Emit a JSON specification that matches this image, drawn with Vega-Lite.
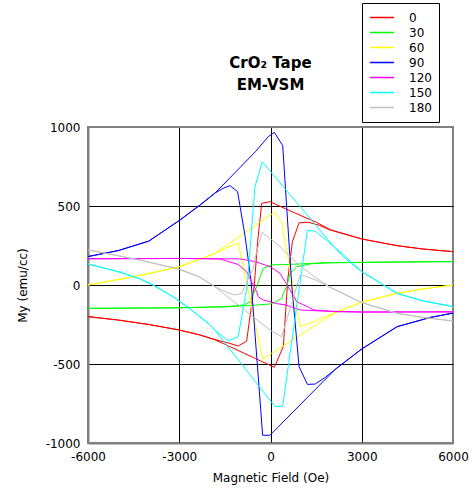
{
"$schema": "https://vega.github.io/schema/vega-lite/v6.json",
"width": 365, "height": 316,
"autosize": "none",
"padding": {"left": 88, "top": 127, "right": 21, "bottom": 47},
"background": "white",
"title": {"text": ["CrO₂ Tape", "EM-VSM"], "font": "DejaVu Sans", "fontSize": 15, "fontWeight": "bold", "lineHeight": 22, "offset": -90, "anchor": "middle", "color": "black"},
"config": {"view": {"stroke": "#808080", "strokeWidth": 2}, "font": "DejaVu Sans"},
"datasets": {
"d": [
{"s":"0","i":0,"h":-6000,"m":-200},{"s":"0","i":1,"h":-5000,"m":-222},{"s":"0","i":2,"h":-4000,"m":-250},{"s":"0","i":3,"h":-3000,"m":-285},{"s":"0","i":4,"h":-2325,"m":-316},{"s":"0","i":5,"h":-1830,"m":-345},{"s":"0","i":6,"h":-1400,"m":-366},{"s":"0","i":7,"h":-1061,"m":-386},{"s":"0","i":8,"h":-785,"m":-356},{"s":"0","i":9,"h":-533,"m":0},{"s":"0","i":10,"h":-423,"m":274},{"s":"0","i":11,"h":-290,"m":517},{"s":"0","i":12,"h":-16,"m":527},{"s":"0","i":13,"h":500,"m":482},{"s":"0","i":14,"h":1000,"m":439},{"s":"0","i":15,"h":1500,"m":398},{"s":"0","i":16,"h":1962,"m":350},{"s":"0","i":17,"h":3007,"m":291},{"s":"0","i":18,"h":4160,"m":249},{"s":"0","i":19,"h":5000,"m":228},{"s":"0","i":20,"h":6000,"m":211},
{"s":"0","i":21,"h":5000,"m":228},{"s":"0","i":22,"h":4160,"m":249},{"s":"0","i":23,"h":3007,"m":291},{"s":"0","i":24,"h":1962,"m":348},{"s":"0","i":25,"h":1600,"m":378},{"s":"0","i":26,"h":1247,"m":397},{"s":"0","i":27,"h":940,"m":394},{"s":"0","i":28,"h":720,"m":274},{"s":"0","i":29,"h":566,"m":32},{"s":"0","i":30,"h":422,"m":-390},{"s":"0","i":31,"h":126,"m":-521},{"s":"0","i":32,"h":-500,"m":-465},{"s":"0","i":33,"h":-1000,"m":-420},{"s":"0","i":34,"h":-1500,"m":-375},{"s":"0","i":35,"h":-1830,"m":-347},{"s":"0","i":36,"h":-2325,"m":-316},{"s":"0","i":37,"h":-3000,"m":-285},{"s":"0","i":38,"h":-4000,"m":-250},{"s":"0","i":39,"h":-5000,"m":-222},{"s":"0","i":40,"h":-6000,"m":-200},

{"s":"30","i":0,"h":-6000,"m":-148},{"s":"30","i":1,"h":-4500,"m":-146},{"s":"30","i":2,"h":-3000,"m":-144},{"s":"30","i":3,"h":-2000,"m":-140},{"s":"30","i":4,"h":-1400,"m":-137},{"s":"30","i":5,"h":-700,"m":-130},{"s":"30","i":6,"h":0,"m":-120},{"s":"30","i":7,"h":204,"m":-105},{"s":"30","i":8,"h":369,"m":-84},{"s":"30","i":9,"h":422,"m":-53},{"s":"30","i":10,"h":534,"m":-11},{"s":"30","i":11,"h":643,"m":74},{"s":"30","i":12,"h":864,"m":116},{"s":"30","i":13,"h":1412,"m":137},{"s":"30","i":14,"h":2000,"m":141},{"s":"30","i":15,"h":3000,"m":143},{"s":"30","i":16,"h":4500,"m":146},{"s":"30","i":17,"h":6000,"m":148},
{"s":"30","i":18,"h":4500,"m":146},{"s":"30","i":19,"h":3000,"m":143},{"s":"30","i":20,"h":2000,"m":141},{"s":"30","i":21,"h":1400,"m":137},{"s":"30","i":22,"h":700,"m":131},{"s":"30","i":23,"h":40,"m":127},{"s":"30","i":24,"h":-237,"m":106},{"s":"30","i":25,"h":-402,"m":21},{"s":"30","i":26,"h":-455,"m":-11},{"s":"30","i":27,"h":-676,"m":-106},{"s":"30","i":28,"h":-860,"m":-125},{"s":"30","i":29,"h":-1400,"m":-137},{"s":"30","i":30,"h":-2000,"m":-140},{"s":"30","i":31,"h":-3000,"m":-144},{"s":"30","i":32,"h":-4500,"m":-146},{"s":"30","i":33,"h":-6000,"m":-148},

{"s":"60","i":0,"h":-6000,"m":0},{"s":"60","i":1,"h":-5000,"m":35},{"s":"60","i":2,"h":-4000,"m":72},{"s":"60","i":3,"h":-3000,"m":116},{"s":"60","i":4,"h":-2324,"m":163},{"s":"60","i":5,"h":-1830,"m":200},{"s":"60","i":6,"h":-1400,"m":240},{"s":"60","i":7,"h":-1061,"m":266},{"s":"60","i":8,"h":-258,"m":-468},{"s":"60","i":9,"h":500,"m":-375},{"s":"60","i":10,"h":1000,"m":-314},{"s":"60","i":11,"h":1500,"m":-252},{"s":"60","i":12,"h":2127,"m":-175},{"s":"60","i":13,"h":3007,"m":-108},{"s":"60","i":14,"h":4160,"m":-53},{"s":"60","i":15,"h":5000,"m":-25},{"s":"60","i":16,"h":6000,"m":0},
{"s":"60","i":17,"h":5000,"m":-25},{"s":"60","i":18,"h":4160,"m":-53},{"s":"60","i":19,"h":3007,"m":-108},{"s":"60","i":20,"h":2127,"m":-175},{"s":"60","i":21,"h":1500,"m":-226},{"s":"60","i":22,"h":973,"m":-264},{"s":"60","i":23,"h":369,"m":397},{"s":"60","i":24,"h":126,"m":460},{"s":"60","i":25,"h":-500,"m":377},{"s":"60","i":26,"h":-1000,"m":310},{"s":"60","i":27,"h":-1830,"m":200},{"s":"60","i":28,"h":-2324,"m":163},{"s":"60","i":29,"h":-3000,"m":116},{"s":"60","i":30,"h":-4000,"m":72},{"s":"60","i":31,"h":-5000,"m":35},{"s":"60","i":32,"h":-6000,"m":0},

{"s":"90","i":0,"h":-6000,"m":180},{"s":"90","i":1,"h":-5000,"m":218},{"s":"90","i":2,"h":-4000,"m":278},{"s":"90","i":3,"h":-3000,"m":408},{"s":"90","i":4,"h":-2324,"m":505},{"s":"90","i":5,"h":-1822,"m":582},{"s":"90","i":6,"h":-1000,"m":744},{"s":"90","i":7,"h":-500,"m":843},{"s":"90","i":8,"h":-72,"m":939},{"s":"90","i":9,"h":126,"m":966},{"s":"90","i":10,"h":402,"m":882},{"s":"90","i":11,"h":698,"m":0},{"s":"90","i":12,"h":940,"m":-517},{"s":"90","i":13,"h":1214,"m":-629},{"s":"90","i":14,"h":1467,"m":-627},{"s":"90","i":15,"h":1800,"m":-585},{"s":"90","i":16,"h":2127,"m":-534},{"s":"90","i":17,"h":3000,"m":-405},{"s":"90","i":18,"h":4160,"m":-264},{"s":"90","i":19,"h":5259,"m":-205},{"s":"90","i":20,"h":6000,"m":-178},
{"s":"90","i":21,"h":5259,"m":-205},{"s":"90","i":22,"h":4160,"m":-264},{"s":"90","i":23,"h":3000,"m":-405},{"s":"90","i":24,"h":2127,"m":-534},{"s":"90","i":25,"h":1000,"m":-753},{"s":"90","i":26,"h":-16,"m":-951},{"s":"90","i":27,"h":-258,"m":-951},{"s":"90","i":28,"h":-643,"m":32},{"s":"90","i":29,"h":-841,"m":316},{"s":"90","i":30,"h":-1083,"m":591},{"s":"90","i":31,"h":-1335,"m":629},{"s":"90","i":32,"h":-1556,"m":612},{"s":"90","i":33,"h":-1822,"m":582},{"s":"90","i":34,"h":-2324,"m":505},{"s":"90","i":35,"h":-3000,"m":408},{"s":"90","i":36,"h":-4000,"m":278},{"s":"90","i":37,"h":-5000,"m":218},{"s":"90","i":38,"h":-6000,"m":180},

{"s":"120","i":0,"h":-6000,"m":166},{"s":"120","i":1,"h":-3000,"m":168},{"s":"120","i":2,"h":-1006,"m":165},{"s":"120","i":3,"h":-500,"m":148},{"s":"120","i":4,"h":-16,"m":116},{"s":"120","i":5,"h":313,"m":74},{"s":"120","i":6,"h":643,"m":-32},{"s":"120","i":7,"h":864,"m":-106},{"s":"120","i":8,"h":1247,"m":-140},{"s":"120","i":9,"h":1412,"m":-158},{"s":"120","i":10,"h":2000,"m":-166},{"s":"120","i":11,"h":3000,"m":-170},{"s":"120","i":12,"h":6000,"m":-170},
{"s":"120","i":13,"h":3000,"m":-172},{"s":"120","i":14,"h":2127,"m":-169},{"s":"120","i":15,"h":973,"m":-158},{"s":"120","i":16,"h":478,"m":-125},{"s":"120","i":17,"h":204,"m":-118},{"s":"120","i":18,"h":-237,"m":-95},{"s":"120","i":19,"h":-402,"m":-74},{"s":"120","i":20,"h":-455,"m":-42},{"s":"120","i":21,"h":-785,"m":84},{"s":"120","i":22,"h":-1061,"m":130},{"s":"120","i":23,"h":-1665,"m":165},{"s":"120","i":24,"h":-3000,"m":168},{"s":"120","i":25,"h":-6000,"m":166},

{"s":"150","i":0,"h":-6000,"m":133},{"s":"150","i":1,"h":-5000,"m":84},{"s":"150","i":2,"h":-4303,"m":40},{"s":"150","i":3,"h":-3864,"m":0},{"s":"150","i":4,"h":-3205,"m":-74},{"s":"150","i":5,"h":-2600,"m":-158},{"s":"150","i":6,"h":-2000,"m":-250},{"s":"150","i":7,"h":-1830,"m":-285},{"s":"150","i":8,"h":-1391,"m":-354},{"s":"150","i":9,"h":-1061,"m":-327},{"s":"150","i":10,"h":-765,"m":0},{"s":"150","i":11,"h":-511,"m":622},{"s":"150","i":12,"h":-270,"m":780},{"s":"150","i":13,"h":500,"m":604},{"s":"150","i":14,"h":1000,"m":490},{"s":"150","i":15,"h":1500,"m":376},{"s":"150","i":16,"h":2127,"m":232},{"s":"150","i":17,"h":2500,"m":160},{"s":"150","i":18,"h":3007,"m":84},{"s":"150","i":19,"h":4160,"m":-53},{"s":"150","i":20,"h":5000,"m":-100},{"s":"150","i":21,"h":6000,"m":-137},
{"s":"150","i":22,"h":5000,"m":-100},{"s":"150","i":23,"h":4160,"m":-53},{"s":"150","i":24,"h":3007,"m":84},{"s":"150","i":25,"h":2400,"m":190},{"s":"150","i":26,"h":1800,"m":290},{"s":"150","i":27,"h":1467,"m":340},{"s":"150","i":28,"h":1214,"m":348},{"s":"150","i":29,"h":401,"m":-766},{"s":"150","i":30,"h":148,"m":-770},{"s":"150","i":31,"h":-500,"m":-611},{"s":"150","i":32,"h":-1000,"m":-488},{"s":"150","i":33,"h":-1500,"m":-366},{"s":"150","i":34,"h":-1830,"m":-285},{"s":"150","i":35,"h":-2000,"m":-250},{"s":"150","i":36,"h":-2600,"m":-158},{"s":"150","i":37,"h":-3205,"m":-74},{"s":"150","i":38,"h":-3864,"m":0},{"s":"150","i":39,"h":-4303,"m":40},{"s":"150","i":40,"h":-5000,"m":84},{"s":"150","i":41,"h":-6000,"m":133},

{"s":"180","i":0,"h":-6000,"m":222},{"s":"180","i":1,"h":-5000,"m":185},{"s":"180","i":2,"h":-4303,"m":158},{"s":"180","i":3,"h":-3000,"m":100},{"s":"180","i":4,"h":-2324,"m":50},{"s":"180","i":5,"h":-1830,"m":-11},{"s":"180","i":6,"h":-1400,"m":-50},{"s":"180","i":7,"h":-1170,"m":-63},{"s":"180","i":8,"h":-950,"m":-53},{"s":"180","i":9,"h":-567,"m":106},{"s":"180","i":10,"h":-455,"m":211},{"s":"180","i":11,"h":-270,"m":333},{"s":"180","i":12,"h":300,"m":245},{"s":"180","i":13,"h":917,"m":130},{"s":"180","i":14,"h":1500,"m":45},{"s":"180","i":15,"h":1962,"m":-15},{"s":"180","i":16,"h":3007,"m":-112},{"s":"180","i":17,"h":4160,"m":-179},{"s":"180","i":18,"h":5000,"m":-205},{"s":"180","i":19,"h":6000,"m":-228},
{"s":"180","i":20,"h":5000,"m":-205},{"s":"180","i":21,"h":4160,"m":-179},{"s":"180","i":22,"h":3007,"m":-112},{"s":"180","i":23,"h":1962,"m":-15},{"s":"180","i":24,"h":1500,"m":30},{"s":"180","i":25,"h":1193,"m":53},{"s":"180","i":26,"h":973,"m":63},{"s":"180","i":27,"h":369,"m":-327},{"s":"180","i":28,"h":-16,"m":-285},{"s":"180","i":29,"h":-600,"m":-197},{"s":"180","i":30,"h":-1200,"m":-106},{"s":"180","i":31,"h":-1830,"m":-11},{"s":"180","i":32,"h":-2324,"m":50},{"s":"180","i":33,"h":-3000,"m":100},{"s":"180","i":34,"h":-4303,"m":158},{"s":"180","i":35,"h":-5000,"m":185},{"s":"180","i":36,"h":-6000,"m":222}
]
},
"data": {"name": "d"},
"mark": {"type": "line", "strokeWidth": 1, "clip": true},
"encoding": {
"x": {"field": "h", "type": "quantitative", "scale": {"domain": [-6000, 6000], "nice": false, "zero": false},
 "axis": {"title": "Magnetic Field (Oe)", "values": [-6000, -3000, 0, 3000, 6000], "labelExpr": "'' + datum.value", "labelFlush": false, "labelOverlap": false,
  "grid": true, "gridColor": {"condition": {"test": "abs(datum.value) == 6000", "value": "#808080"}, "value": "black"}, "gridOpacity": 1, "gridWidth": 1,
  "domainColor": "#808080", "domainWidth": 2, "ticks": false, "labelPadding": 8, "labelFontSize": 12, "labelColor": "black", "labelFont": "DejaVu Sans",
  "titleFont": "DejaVu Sans", "titleFontSize": 12, "titleFontWeight": "normal", "titleColor": "black", "titlePadding": 10}},
"y": {"field": "m", "type": "quantitative", "scale": {"domain": [-1000, 1000], "nice": false},
 "axis": {"title": "My (emu/cc)", "values": [-1000, -500, 0, 500, 1000], "labelExpr": "'' + datum.value", "labelFlush": false, "labelOverlap": false,
  "grid": true, "gridColor": {"condition": {"test": "abs(datum.value) == 1000", "value": "#808080"}, "value": "black"}, "gridOpacity": 1, "gridWidth": 1,
  "domainColor": "#808080", "domainWidth": 2, "ticks": false, "labelPadding": 8, "labelFontSize": 12, "labelColor": "black", "labelFont": "DejaVu Sans",
  "titleFont": "DejaVu Sans", "titleFontSize": 12, "titleFontWeight": "normal", "titleColor": "black", "titlePadding": 16}},
"color": {"field": "s", "type": "nominal",
 "scale": {"domain": ["0", "30", "60", "90", "120", "150", "180"], "range": ["#ff0000", "#00ff00", "#ffff00", "#0000ff", "#ff00ff", "#00ffff", "#c0c0c0"]},
 "legend": {"title": null, "orient": "none", "legendX": 274, "legendY": -124, "direction": "vertical", "symbolType": "stroke", "symbolSize": 576, "symbolStrokeWidth": 1.5,
  "labelFontSize": 12, "labelFont": "DejaVu Sans", "labelColor": "black", "labelOffset": 14, "padding": 7, "columnPadding": 0, "strokeColor": "black", "fillColor": "white", "clipHeight": 15, "rowPadding": 0}},
"order": {"field": "i", "type": "quantitative"}
}
}
